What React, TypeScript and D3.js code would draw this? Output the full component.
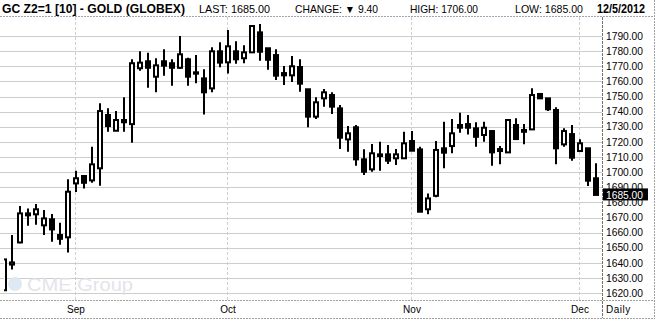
import React from "react";
import * as d3 from "d3";

const dates = [
  "2012-08-21","2012-08-22","2012-08-23","2012-08-24","2012-08-27","2012-08-28","2012-08-29","2012-08-30","2012-08-31",
  "2012-09-04","2012-09-05","2012-09-06","2012-09-07","2012-09-10","2012-09-11","2012-09-12","2012-09-13","2012-09-14",
  "2012-09-17","2012-09-18","2012-09-19","2012-09-20","2012-09-21","2012-09-24","2012-09-25","2012-09-26","2012-09-27","2012-09-28",
  "2012-10-01","2012-10-02","2012-10-03","2012-10-04","2012-10-05","2012-10-08","2012-10-09","2012-10-10","2012-10-11","2012-10-12",
  "2012-10-15","2012-10-16","2012-10-17","2012-10-18","2012-10-19","2012-10-22","2012-10-23","2012-10-24","2012-10-25","2012-10-26",
  "2012-10-29","2012-10-30","2012-10-31",
  "2012-11-01","2012-11-02","2012-11-05","2012-11-06","2012-11-07","2012-11-08","2012-11-09","2012-11-12","2012-11-13","2012-11-14",
  "2012-11-15","2012-11-16","2012-11-19","2012-11-20","2012-11-21","2012-11-23","2012-11-26","2012-11-27","2012-11-28","2012-11-29","2012-11-30",
  "2012-12-03","2012-12-04","2012-12-05",
];
const opens = [
  1622, 1639, 1653.6, 1671.5, 1672.2, 1664.9, 1668.9, 1658.5, 1657,
  1692.6, 1697.5, 1694.6, 1702.6, 1737.8, 1727.4, 1734.5, 1731.8, 1768.7,
  1773.3, 1763.1, 1773.3, 1772, 1769, 1774.6, 1766, 1762, 1755.4, 1779.9,
  1772.6, 1779.9, 1775.3, 1779.2, 1792.4, 1781.9, 1777.4, 1765.5, 1764, 1769.5,
  1754.8, 1736.7, 1748.8, 1751, 1742.2, 1721.7, 1729.7, 1708.5, 1701.9, 1711.8,
  1711.8, 1709.2, 1709.2,
  1720.6, 1715.1, 1675.5, 1684.4, 1715.8, 1717.3, 1731.2, 1731.8, 1729, 1724.6,
  1727.2, 1715.3, 1713.1, 1731.2, 1727.9, 1728.3, 1751.7, 1748.8, 1741.1, 1718.4, 1725.2,
  1714, 1715.8, 1696,
];
const highs = [
  1642.4, 1658.5, 1677.6, 1676, 1679, 1675, 1672.4, 1666.6, 1695.3,
  1701, 1698, 1716.8, 1745.5, 1742.2, 1740.4, 1749.5, 1774.6, 1779.9,
  1779, 1775.3, 1781.2, 1774.6, 1790, 1775.7, 1777.4, 1768, 1782.5, 1785.8,
  1794, 1786.5, 1783.9, 1797.3, 1797.9, 1781.9, 1781.2, 1770.2, 1776.8, 1774.6,
  1754.8, 1749.5, 1755, 1752.8, 1744.4, 1730.5, 1731.2, 1715.1, 1718.6, 1720.1,
  1718, 1715.3, 1726.7,
  1727.2, 1716.8, 1686, 1720.6, 1733.4, 1735.1, 1739.3, 1737.8, 1733, 1733.4,
  1727.9, 1717.3, 1734.9, 1735.6, 1731.8, 1755.4, 1752.1, 1748.8, 1742.9, 1729, 1731.2,
  1721.7, 1715.8, 1706,
];
const lows = [
  1622, 1635.8, 1653, 1664.6, 1665.3, 1658.5, 1654, 1652, 1647,
  1687, 1689.3, 1693, 1691, 1726.7, 1727.4, 1726.7, 1719.5, 1767,
  1755.8, 1752.8, 1763.8, 1757.2, 1768.4, 1757.2, 1758.7, 1738.2, 1752.8, 1769.3,
  1765.3, 1771.7, 1772, 1779.2, 1773.7, 1767.7, 1760.9, 1757.6, 1759.6, 1753.2,
  1729.7, 1735.1, 1743.3, 1738.4, 1715.3, 1713.5, 1704.3, 1698.1, 1700.3, 1701,
  1705.4, 1704.7, 1708.7,
  1714.2, 1673.9, 1672.2, 1683.4, 1702.6, 1712.5, 1726.1, 1725, 1716.8, 1720.1,
  1704.3, 1705.2, 1713.1, 1721.3, 1718.4, 1728.3, 1748.8, 1740.4, 1705.2, 1716.8, 1707.6,
  1714, 1690.9, 1685,
];
const closes = [
  1642.4, 1640.4, 1672.8, 1672.8, 1675.5, 1669.5, 1662.2, 1656, 1687.1,
  1696, 1693, 1705.2, 1740.4, 1730.5, 1734.5, 1733, 1772, 1772.4,
  1769, 1770.6, 1770.4, 1769, 1777.9, 1763.1, 1765.1, 1752.8, 1779.9, 1772.4,
  1783.2, 1774.6, 1779.2, 1796.6, 1779.6, 1774.3, 1763.8, 1764, 1770, 1758.5,
  1736.7, 1746.2, 1752.8, 1743.3, 1722.8, 1725.7, 1708.5, 1700.3, 1712.5, 1710.7,
  1707.6, 1711.8, 1719.1,
  1714.2, 1673.9, 1682.7, 1714.7, 1712.9, 1725.7, 1729.4, 1729.4, 1723.4, 1729.4,
  1713.1, 1714, 1734.5, 1721.9, 1726.7, 1751, 1748.8, 1741.6, 1715.8, 1727.2, 1709.6,
  1719.1, 1694.4, 1685,
];
const yTicks = [1620, 1630, 1640, 1650, 1660, 1670, 1680, 1690, 1700, 1710, 1720, 1730, 1740, 1750, 1760, 1770, 1780, 1790];
const monthNames = ["Jan","Feb","Mar","Apr","May","Jun","Jul","Aug","Sep","Oct","Nov","Dec"];
const lastPrice = 1685;
const headerItems = [
  { text: "LAST: 1685.00", x: 199, w: 71 },
  { text: "CHANGE: \u25BC 9.40", x: 295, w: 83 },
  { text: "HIGH: 1706.00", x: 410, w: 68 },
  { text: "LOW: 1685.00", x: 515, w: 68 },
];
const title = "GC Z2=1 [10] - GOLD (GLOBEX)";
const dateLabel = "12/5/2012";

const W = 658, H = 321;
const plotLeft = 0, plotRight = 602, plotTop = 17, plotBottom = 300;
const FONT = "'Liberation Sans', Arial, sans-serif";

export default function App() {
  const n = dates.length;
  const x = d3.scaleLinear().domain([0, n - 1]).range([4, 4 + 8 * (n - 1)]);
  const y = d3.scaleLinear().domain([1620, 1790]).range([293.3, 36]);

  const parsed = dates.map((d) => new Date(d + "T00:00:00"));
  const monthStarts: { i: number; label: string }[] = [];
  for (let i = 1; i < n; i++) {
    if (parsed[i].getMonth() !== parsed[i - 1].getMonth()) {
      monthStarts.push({ i, label: monthNames[parsed[i].getMonth()] });
    }
  }

  const candles = dates.map((d, i) => ({ d, o: opens[i], h: highs[i], l: lows[i], c: closes[i], i }));

  return (
    <div style={{ position: "absolute", left: 0, top: 0 }}>
      <svg width={W} height={H} style={{ display: "block", background: "#fff" }} fontFamily={FONT}>
        <defs>
          <clipPath id="plotclip">
            <rect x={4} y={plotTop} width={plotRight - 4} height={plotBottom - plotTop} />
          </clipPath>
        </defs>
        {/* horizontal gridlines */}
        {yTicks.map((t) => (
          <line key={t} x1={plotLeft} x2={plotRight} y1={Math.round(y(t)) + 0.5} y2={Math.round(y(t)) + 0.5}
            stroke="#c9cfc9" strokeWidth={1} />
        ))}
        {/* vertical month gridlines */}
        {monthStarts.map((m) => (
          <line key={m.label} x1={x(m.i) - 0.5} x2={x(m.i) - 0.5} y1={plotTop} y2={plotBottom}
            stroke="#cfcfcf" strokeWidth={1} strokeDasharray="3,2" />
        ))}
        {/* watermark */}
        <g opacity={0.9}>
          <circle cx={15} cy={284} r={7} fill="#dbe7f3" />
          <text x={27} y={291} fontSize={18} fill="#e2e2ea" textLength={106} lengthAdjust="spacingAndGlyphs">CME Group</text>
        </g>
        {/* candles */}
        <g clipPath="url(#plotclip)">
          {candles.map((k) => {
            const cx = x(k.i);
            const top = y(Math.max(k.o, k.c));
            const bot = y(Math.min(k.o, k.c));
            const up = k.c >= k.o;
            return (
              <g key={k.d}>
                <line x1={cx} x2={cx} y1={y(k.h)} y2={y(k.l)} stroke="#000" strokeWidth={2} />
                <rect x={cx - 2} y={top} width={4} height={Math.max(bot - top, 0.5)}
                  fill={up ? "#fff" : "#000"} stroke="#000" strokeWidth={2} />
              </g>
            );
          })}
        </g>
        {/* header */}
        <line x1={0} x2={655} y1={16.5} y2={16.5} stroke="#a8a0b0" strokeWidth={1} strokeDasharray="2,1" />
        <text x={2} y={13} fontSize={12.5} fontWeight="bold" fill="#000" textLength={183} lengthAdjust="spacingAndGlyphs">{title}</text>
        {headerItems.map((h) => (
          <text key={h.text} x={h.x} y={13} fontSize={10.5} fill="#000" textLength={h.w} lengthAdjust="spacingAndGlyphs">{h.text}</text>
        ))}
        <text x={597} y={13} fontSize={12.5} fontWeight="bold" fill="#000" textLength={48} lengthAdjust="spacingAndGlyphs">{dateLabel}</text>
        {/* frame lines */}
        <line x1={plotRight + 0.5} x2={plotRight + 0.5} y1={plotTop} y2={318} stroke="#707070" strokeWidth={1} strokeDasharray="3,1" />
        <line x1={654.5} x2={654.5} y1={0} y2={318} stroke="#a0a0a0" strokeWidth={1} strokeDasharray="2,1" />
        <line x1={0} x2={655} y1={plotBottom + 0.5} y2={plotBottom + 0.5} stroke="#a0a0a0" strokeWidth={1} strokeDasharray="2,1" />
        <line x1={0} x2={655} y1={318.5} y2={318.5} stroke="#a0a0a0" strokeWidth={1} strokeDasharray="2,1" />
        {/* y axis labels */}
        {yTicks.map((t) => (
          <text key={t} x={606} y={y(t) + 3.6} fontSize={10.2} fill="#000" textLength={37} lengthAdjust="spacingAndGlyphs">{d3.format(".2f")(t)}</text>
        ))}
        {/* last price marker */}
        <rect x={603} y={y(lastPrice) - 6.5} width={45} height={12} fill="#000" />
        <text x={606} y={y(lastPrice) + 3.6} fontSize={10.2} fill="#fff" textLength={37} lengthAdjust="spacingAndGlyphs">{d3.format(".2f")(lastPrice)}</text>
        {/* x axis labels */}
        {monthStarts.map((m) => (
          <text key={m.label} x={x(m.i)} y={313} fontSize={10} fill="#000" textAnchor="middle">{m.label}</text>
        ))}
        <text x={606} y={313} fontSize={10} fill="#000" letterSpacing={0.5}>Daily</text>
      </svg>
    </div>
  );
}
